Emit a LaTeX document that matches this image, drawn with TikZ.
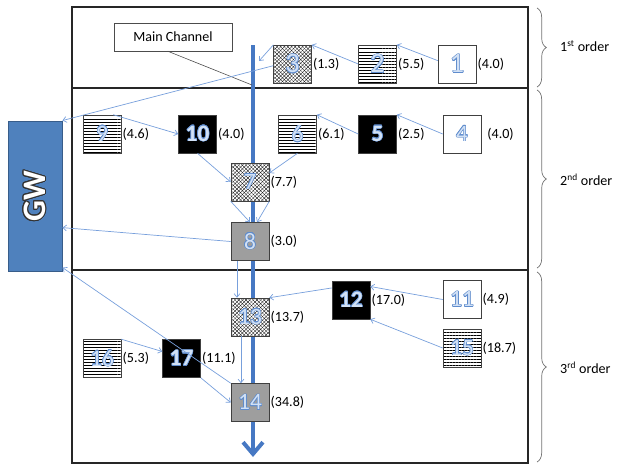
\documentclass[tikz,border=0pt]{standalone}
\usepackage{fontspec}
\setmainfont{Carlito}
\usepackage{contour}
\usetikzlibrary{positioning, patterns.meta, arrows.meta, decorations.pathreplacing}

\definecolor{flowblue}{RGB}{120,160,220}
\definecolor{chblue}{RGB}{70,120,195}
\definecolor{gwblue}{RGB}{79,129,189}
\definecolor{gwborder}{RGB}{56,93,138}
\definecolor{numfill}{RGB}{210,225,245}
\definecolor{numline}{RGB}{95,140,205}

\newcommand{\snum}[1]{\contour{numline}{\textcolor{numfill}{#1}}}
\contourlength{0.45pt}

\begin{document}
\begin{tikzpicture}[x=0.03cm, y=-0.03cm,
  stream/.style={draw=black!75, line width=0.5pt, minimum size=1.14cm, inner sep=0pt,
    font=\fontsize{20}{20}\selectfont},
  big/.style={font=\fontsize{24}{24}\selectfont},
  whitebox/.style={stream, fill=white},
  blackbox/.style={stream, fill=black, font=\fontsize{20}{20}\selectfont\bfseries},
  greybox/.style={stream, fill=black!38},
  linebox/.style={stream, preaction={fill=white},
    pattern={Lines[angle=0,distance=2.6pt,line width=0.35pt]}},
  hatchbox/.style={stream, preaction={fill=white},
    preaction={pattern={Lines[angle=45,distance=2.2pt,line width=0.25pt]}},
    pattern={Lines[angle=-45,distance=2.2pt,line width=0.25pt]}},
  val/.style={anchor=west, inner sep=1pt, font=\fontsize{12}{12}\selectfont},
  flow/.style={draw=flowblue, line width=0.6pt, -{Straight Barb[length=3pt,width=5pt]}},
  order/.style={anchor=west, inner sep=0pt, font=\fontsize{12}{12}\selectfont},
  frame/.style={line width=1.2pt, draw=black!85},
  bracket/.style={decorate, decoration={brace, amplitude=8pt}, draw=black!55, line width=0.6pt}
]

% Manually size the picture
\useasboundingbox (0,0) rectangle (617,466);

% Order frames
\draw[frame] (72,7) rectangle (528,88);
\draw[frame] (72,88) rectangle (528,270);
\draw[frame] (72,270) rectangle (528,463);

% Braces and order labels
\draw[bracket] (537,8) -- (537,87);
\node[order] (o1) at (560,46) {1\textsuperscript{st} order};
\draw[bracket] (537,90) -- (537,268);
\node[order] (o2) at (560,180) {2\textsuperscript{nd} order};
\draw[bracket] (537,272) -- (537,462);
\node[order] (o3) at (560,368) {3\textsuperscript{rd} order};

% Main channel (behind the streams)
\coordinate (chTop) at (253,45);
\coordinate (chEnd) at (253,457);
\draw[chblue, line width=3.4pt, -{Straight Barb[length=10pt,width=17pt]}] (chTop) -- (chEnd);
\node[draw=black!70, minimum width=3.54cm, minimum height=0.84cm,
  font=\fontsize{12}{12}\selectfont] (mclabel) at (173,37) {Main Channel};
\coordinate (mcPt) at (252,85);
\draw[black!70, line width=0.5pt] (mclabel.-110) -- (mcPt);

% Groundwater
\node[draw=gwborder, fill=gwblue, line width=0.8pt, minimum width=1.62cm,
  minimum height=4.5cm, inner sep=0pt] (gw) at (35,196) {};
\node[rotate=90, font=\fontsize{28}{28}\selectfont\bfseries] (gwtext) at (gw.center)
  {\contourlength{0.9pt}\contour{black!80}{\textcolor{white}{GW}}};

% 1st order streams
\node[hatchbox, big] (s3) at (292.5,64) {\snum{3}};
\node[val] (v3) at (s3.east) {(1.3)};
\node[linebox, big] (s2) at (377.5,64) {\snum{2}};
\node[val] (v2) at (s2.east) {(5.5)};
\node[whitebox, big] (s1) at (457,64) {\snum{1}};
\node[val] (v1) at (s1.east) {(4.0)};

% 2nd order streams
\node[linebox] (s9) at (102,134) {\snum{9}};
\node[val] (v9) at (s9.east) {(4.6)};
\node[blackbox] (s10) at (197.5,134) {\snum{10}};
\node[val] (v10) at (s10.east) {(4.0)};
\node[linebox] (s6) at (297.5,134) {\snum{6}};
\node[val] (v6) at (s6.east) {(6.1)};
\node[blackbox] (s5) at (377.5,134) {\snum{5}};
\node[val] (v5) at (s5.east) {(2.5)};
\node[whitebox] (s4) at (462,134) {\snum{4}};
\node[val, xshift=4pt] (v4) at (s4.east) {(4.0)};
\node[hatchbox] (s7) at (250,182) {\snum{7}};
\node[val] (v7) at (s7.east) {(7.7)};
\node[greybox] (s8) at (250,241.5) {\snum{8}};
\node[val] (v8) at (s8.east) {(3.0)};

% 3rd order streams
\node[blackbox] (s12) at (351,300) {\snum{12}};
\node[val] (v12) at (s12.east) {(17.0)};
\node[whitebox] (s11) at (462,299.5) {\snum{11}};
\node[val] (v11) at (s11.east) {(4.9)};
\node[linebox] (s15) at (462,348) {\snum{15}};
\node[val] (v15) at (s15.east) {(18.7)};
\node[hatchbox] (s13) at (250,317) {\snum{13}};
\node[val] (v13) at (s13.east) {(13.7)};
\node[linebox] (s16) at (102,358.5) {\snum{16}};
\node[val] (v16) at (s16.east) {(5.3)};
\node[blackbox] (s17) at (181.5,358.5) {\snum{17}};
\node[val] (v17) at (s17.east) {(11.1)};
\node[greybox] (s14) at (250,402.5) {\snum{14}};
\node[val] (v14) at (s14.east) {(34.8)};

% Flows
\coordinate (ch3) at (259,61);
\draw[flow] (s1.170) -- (s2.north east);
\draw[flow] (s2.west) -- (s3.north east);
\draw[flow] (s3.north west) -- (ch3);
\draw[flow] (s3.185) -- (gw.north east);
\draw[flow] (s4.west) -- (s5.north east);
\draw[flow] (s5.west) -- (s6.north east);
\draw[flow] (s6.south) -- (s7.25);
\draw[flow] (s9.60) -- (s10.west);
\draw[flow] (s10.south) -- (s7.west);
\draw[flow] (s7.south west) -- (s8.north);
\draw[flow] (s7.south east) -- (s8.70);
\draw[flow] (s8.west) -- (gw.-49);
\draw[flow] (s8.-124) -- (s8.-124 |- s13.north);
\draw[flow] (s12.148) -- (s13.north east);
\draw[flow] (s11.west) -- (s12.35);
\draw[flow] (s15.west) -- (s12.south east);
\draw[flow] (s13.-115) -- (s13.-115 |- s14.north);
\draw[flow] (s16.north east) -- (s17.160);
\draw[flow] (s17.south east) -- (s14.west);
\draw[flow] (s14.north west) -- (gw.-69);

\end{tikzpicture}
\end{document}
